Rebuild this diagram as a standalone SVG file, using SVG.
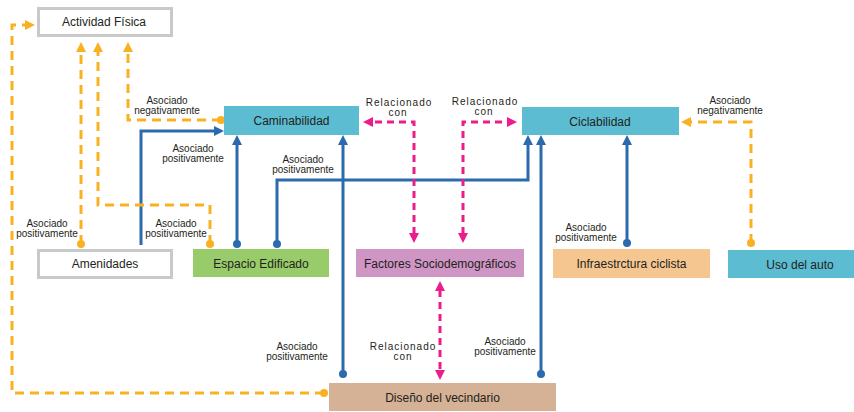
<svg xmlns="http://www.w3.org/2000/svg" width="854" height="412" viewBox="0 0 854 412">
  <style>
    .box-label { font-family: "Liberation Sans", Arial, sans-serif; font-size: 12px; fill: #231f20; text-anchor: middle; }
    .edge-label { font-family: "Liberation Sans", Arial, sans-serif; font-size: 10px; fill: #231f20; text-anchor: middle; }
    .spaced { letter-spacing: 1px; }
    .outline { fill: #ffffff; stroke: #c9c9c9; stroke-width: 3; }
    .blue { fill: none; stroke: #2a6aad; stroke-width: 3; }
    .orange { fill: none; stroke: #f9b122; stroke-width: 3; stroke-dasharray: 9 6; }
    .pink { fill: none; stroke: #ec1c8c; stroke-width: 3; stroke-dasharray: 7 5; }
  </style>
  <defs>
    <marker id="arrow-blue" viewBox="0 0 10 10" refX="1" refY="5" markerWidth="10" markerHeight="10" markerUnits="userSpaceOnUse" orient="auto-start-reverse">
      <path d="M0,0 L10,5 L0,10 z" fill="#2a6aad"/>
    </marker>
    <marker id="arrow-orange" viewBox="0 0 10 10" refX="1" refY="5" markerWidth="10" markerHeight="10" markerUnits="userSpaceOnUse" orient="auto-start-reverse">
      <path d="M0,0 L10,5 L0,10 z" fill="#f9b122"/>
    </marker>
    <marker id="arrow-pink" viewBox="0 0 10 10" refX="1" refY="5" markerWidth="10" markerHeight="10" markerUnits="userSpaceOnUse" orient="auto-start-reverse">
      <path d="M0,0 L10,5 L0,10 z" fill="#ec1c8c"/>
    </marker>
    <marker id="dot-blue" viewBox="0 0 8 8" refX="4" refY="4" markerWidth="8" markerHeight="8" markerUnits="userSpaceOnUse">
      <circle cx="4" cy="4" r="4" fill="#2a6aad"/>
    </marker>
    <marker id="dot-orange" viewBox="0 0 8 8" refX="4" refY="4" markerWidth="8" markerHeight="8" markerUnits="userSpaceOnUse">
      <circle cx="4" cy="4" r="4" fill="#f9b122"/>
    </marker>
  </defs>

  <rect width="854" height="412" fill="#ffffff"/>

  <!-- connectors -->
  <g id="connectors">
    <!-- blue: positive associations -->
    <path class="blue" d="M141,245 V131 H215" marker-end="url(#arrow-blue)"/>
    <path class="blue" d="M237,244 V144" marker-start="url(#dot-blue)" marker-end="url(#arrow-blue)"/>
    <path class="blue" d="M277,244 V180 H528 V144" marker-start="url(#dot-blue)" marker-end="url(#arrow-blue)"/>
    <path class="blue" d="M343,374 V144" marker-start="url(#dot-blue)" marker-end="url(#arrow-blue)"/>
    <path class="blue" d="M541,374 V144" marker-start="url(#dot-blue)" marker-end="url(#arrow-blue)"/>
    <path class="blue" d="M627,243 V144" marker-start="url(#dot-blue)" marker-end="url(#arrow-blue)"/>

    <!-- orange dashed: links to physical activity / car use -->
    <path class="orange" d="M81,244 V51" marker-start="url(#dot-orange)" marker-end="url(#arrow-orange)"/>
    <path class="orange" d="M210,244 V205 H98 V51" marker-start="url(#dot-orange)" marker-end="url(#arrow-orange)"/>
    <path class="orange" d="M221,120 H128 V51" marker-start="url(#dot-orange)" marker-end="url(#arrow-orange)"/>
    <path class="orange" d="M751,243 V122 H690" marker-start="url(#dot-orange)" marker-end="url(#arrow-orange)"/>
    <path class="orange" d="M324,393 H12 V25 H26" marker-start="url(#dot-orange)" marker-end="url(#arrow-orange)"/>

    <!-- pink dashed: two-way relations -->
    <path class="pink" d="M414,234 V122 H372" marker-start="url(#arrow-pink)" marker-end="url(#arrow-pink)"/>
    <path class="pink" d="M463,234 V122 H508" marker-start="url(#arrow-pink)" marker-end="url(#arrow-pink)"/>
    <path class="pink" d="M440,290 V371" marker-start="url(#arrow-pink)" marker-end="url(#arrow-pink)"/>

    <!-- connector labels -->
    <text class="edge-label" x="167" y="104">Asociado<tspan x="167" y="114">negativamente</tspan></text>
    <text class="edge-label" x="193" y="152">Asociado<tspan x="193" y="162">positivamente</tspan></text>
    <text class="edge-label" x="303" y="163">Asociado<tspan x="303" y="173">positivamente</tspan></text>
    <text class="edge-label" x="47" y="227">Asociado<tspan x="47" y="237">positivamente</tspan></text>
    <text class="edge-label" x="176" y="227">Asociado<tspan x="176" y="237">positivamente</tspan></text>
    <text class="edge-label" x="297" y="350">Asociado<tspan x="297" y="360">positivamente</tspan></text>
    <text class="edge-label" x="505" y="345">Asociado<tspan x="505" y="355">positivamente</tspan></text>
    <text class="edge-label" x="586" y="231">Asociado<tspan x="586" y="241">positivamente</tspan></text>
    <text class="edge-label" x="730" y="104">Asociado<tspan x="730" y="114">negativamente</tspan></text>
    <text class="edge-label spaced" x="399" y="106">Relacionado<tspan x="398" y="116">con</tspan></text>
    <text class="edge-label spaced" x="485" y="105">Relacionado<tspan x="484" y="115">con</tspan></text>
    <text class="edge-label spaced" x="403" y="350">Relacionado<tspan x="403" y="360">con</tspan></text>
  </g>

  <!-- nodes -->
  <g id="actividad-fisica">
    <rect class="outline" x="38.5" y="8.5" width="133" height="27"/>
    <text class="box-label" x="104" y="26">Actividad Física</text>
  </g>
  <g id="caminabilidad">
    <rect x="224" y="106" width="135" height="29" fill="#5cbcd2"/>
    <text class="box-label" x="291.5" y="125">Caminabilidad</text>
  </g>
  <g id="ciclabilidad">
    <rect x="522" y="107" width="157" height="28" fill="#5cbcd2"/>
    <text class="box-label" x="600" y="125.5">Ciclabilidad</text>
  </g>
  <g id="amenidades">
    <rect class="outline" x="38.5" y="250.5" width="133" height="27"/>
    <text class="box-label" x="105" y="268">Amenidades</text>
  </g>
  <g id="espacio-edificado">
    <rect x="193" y="249" width="136" height="28" fill="#98cc6a"/>
    <text class="box-label" x="261" y="267.5">Espacio Edificado</text>
  </g>
  <g id="factores-sociodemograficos">
    <rect x="356" y="249" width="168" height="28" fill="#cf96c5"/>
    <text class="box-label" x="440" y="267.5">Factores Sociodemográficos</text>
  </g>
  <g id="infraestructura-ciclista">
    <rect x="553" y="249" width="157" height="29" fill="#f5c690"/>
    <text class="box-label" x="631.5" y="268">Infraestrctura ciclista</text>
  </g>
  <g id="uso-del-auto">
    <rect x="728" y="250" width="144" height="28" fill="#5cbcd2"/>
    <text class="box-label" x="800" y="268.5">Uso del auto</text>
  </g>
  <g id="diseno-del-vecindario">
    <rect x="329" y="383" width="227" height="28" fill="#d5b195"/>
    <text class="box-label" x="442.5" y="401.5">Diseño del vecindario</text>
  </g>
</svg>
